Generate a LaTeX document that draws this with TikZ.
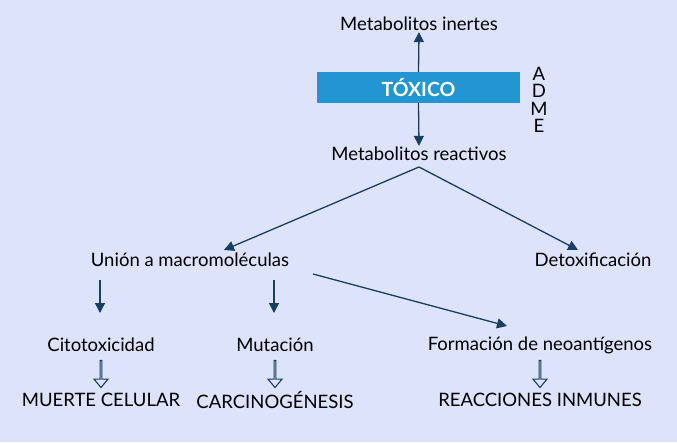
\documentclass[tikz,border=0pt]{standalone}
\usepackage{fontspec}
\setmainfont{Lato}
\usetikzlibrary{arrows.meta,shapes.arrows}
\definecolor{bg}{HTML}{DCE3FA}
\definecolor{boxc}{HTML}{2196D3}
\definecolor{arr}{HTML}{173E63}
\begin{document}
\begin{tikzpicture}[x=1pt,y=-1pt,
  lab/.style={font=\fontsize{18.5}{20}\selectfont, inner sep=1pt},
  ar/.style={draw=arr, line width=1.3pt, -{Triangle[length=10pt,width=10pt]}},
  hol/.style={draw=arr, line width=1.1pt, single arrow, single arrow head extend=4pt, minimum height=27pt, minimum width=14pt, single arrow tip angle=80, inner sep=0pt, shape border rotate=270, fill=bg}]
\useasboundingbox[fill=bg] (0,0) rectangle (677,442);
\node[lab] (inert) at (419,24) {Metabolitos inertes};
\node[fill=boxc, minimum width=203pt, minimum height=31pt, inner sep=0pt, text=white, font=\fontsize{19.5}{21}\selectfont\bfseries] (tox) at (418.5,87.5) {TÓXICO};
\node[lab, align=center, font=\fontsize{18.5}{17.5}\selectfont] (adme) at (539,100) {A\\D\\M\\E};
\node[lab] (react) at (419,154) {Metabolitos reactivos};
\node[lab] (union) at (190,260) {Unión a macromoléculas};
\node[lab] (detox) at (593,260) {Detoxificación};
\node[lab] (cito) at (101,345) {Citotoxicidad};
\node[lab] (mut) at (275,345) {Mutación};
\node[lab] (form) at (540,345) {Formación de neoantígenos};
\node[lab] (muerte) at (101,400) {MUERTE CELULAR};
\node[lab] (carc) at (275,400) {CARCINOGÉNESIS};
\node[lab] (reac) at (540,400) {REACCIONES INMUNES};
\node[hol] (h1) at (101,373.5) {};
\node[hol] (h2) at (275,373.5) {};
\node[hol] (h3) at (540,373.5) {};
\coordinate (rb) at (419,167);
\draw[ar] (tox.north) -- (inert.south);
\draw[ar] (tox.south) -- (react.north);
\draw[ar] (rb) -- (224,250);
\draw[ar] (rb) -- (578,250);
\coordinate (u1) at (100,280); \coordinate (u1e) at (100,313);
\coordinate (u2) at (274,280); \coordinate (u2e) at (274,313);
\draw[ar] (u1) -- (u1e);
\draw[ar] (u2) -- (u2e);
\coordinate (u3) at (313,274); \coordinate (u3e) at (507,326);
\draw[ar] (u3) -- (u3e);
\end{tikzpicture}
\end{document}
